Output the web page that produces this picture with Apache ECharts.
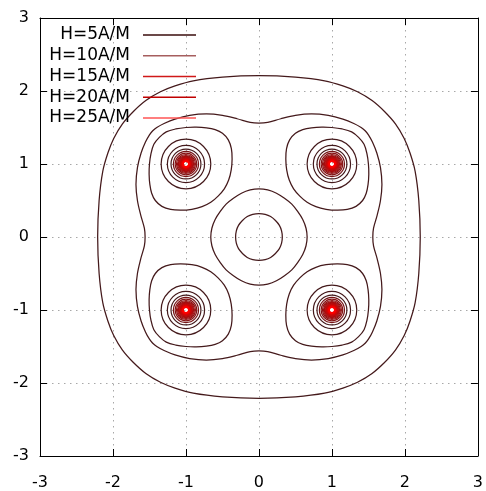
<!DOCTYPE html>
<html><head><meta charset="utf-8">
<script src="https://cdn.jsdelivr.net/npm/echarts@6/dist/echarts.min.js"></script>
<style>html,body{margin:0;padding:0;background:#fff}#c{width:486px;height:491px}</style>
</head><body><div id="c"></div>
<script>
// ---- data ----
const xTicks = [-3, -2, -1, 0, 1, 2, 3];
const yTicks = [-3, -2, -1, 0, 1, 2, 3];
const legendNames = ['H=5A/M', 'H=10A/M', 'H=15A/M', 'H=20A/M', 'H=25A/M'];
const wires = [[-1, 1], [1, 1], [-1, -1], [1, -1]];
// first-quadrant arcs of the contours that go round the origin (from the y axis to the x axis)
const outerArc = [[0,2.21],[0.50,2.19],[0.90,2.14],[1.15,2.07],[1.35,1.99],[1.55,1.87],[1.72,1.72],[1.87,1.55],[1.99,1.35],[2.07,1.15],[2.14,0.90],[2.19,0.50],[2.21,0]];
const middleArc = [[0,1.56],[0.12,1.57],[0.30,1.62],[0.50,1.665],[0.72,1.685],[0.95,1.665],[1.15,1.615],[1.30,1.555],[1.40,1.50],[1.455,1.455],[1.50,1.40],[1.555,1.30],[1.615,1.15],[1.665,0.95],[1.685,0.72],[1.665,0.50],[1.62,0.30],[1.57,0.12],[1.56,0]];
const innerArc = [[0,0.66],[0.12,0.645],[0.24,0.60],[0.35,0.53],[0.45,0.45],[0.53,0.35],[0.60,0.24],[0.645,0.12],[0.66,0]];
const centerArc = [[0,0.32],[0.085,0.31],[0.16,0.28],[0.226,0.226],[0.28,0.16],[0.31,0.085],[0.32,0]];
// outer contour round the wire at (1,1): half from the corner facing the origin to the outer diagonal point
const teardropHalf = [[0.56,0.56],[0.66,0.475],[0.78,0.415],[0.92,0.38],[1.07,0.368],[1.21,0.378],[1.33,0.42],[1.42,0.50],[1.47,0.60],[1.495,0.72],[1.505,0.86],[1.50,1.00],[1.48,1.14],[1.44,1.27],[1.365,1.365]];
// radii of the rings round each wire (outer to inner)
const ringRadii = [0.34, 0.255, 0.205, 0.172, 0.148, 0.13, 0.116, 0.104, 0.094, 0.086, 0.079, 0.073, 0.068, 0.064, 0.060, 0.056, 0.053, 0.050, 0.047, 0.045, 0.043, 0.041, 0.039, 0.037];

// ---- build closed loops using the plot's symmetry ----
function fullLoop(arc) {
  const rev = arc.slice().reverse();
  const q1 = arc.map(p => [p[0], p[1]]);
  const q4 = rev.slice(1).map(p => [p[0], -p[1]]);
  const q3 = arc.slice(1).map(p => [-p[0], -p[1]]);
  const q2 = rev.slice(1, -1).map(p => [-p[0], p[1]]);
  return q1.concat(q4, q3, q2);
}
function teardrop(sx, sy) {
  const mirror = teardropHalf.slice(1, -1).reverse().map(p => [p[1], p[0]]);
  return teardropHalf.concat(mirror).map(p => [p[0] * sx, p[1] * sy]);
}
const loops = [fullLoop(outerArc), fullLoop(middleArc), fullLoop(innerArc), fullLoop(centerArc)];
wires.forEach(w => loops.push(teardrop(w[0], w[1])));

const ringData = [];
wires.forEach(w => ringRadii.forEach((r, i) => ringData.push([w[0], w[1], r, i])));

const contourColor = '#44191b';
function ringColor(i) {
  const n = ringRadii.length;
  if (i < 3) return contourColor;
  const t = Math.pow((i - 2) / (n - 3), 0.55);
  const r = Math.round(0x55 + t * (255 - 0x55));
  const g = Math.round(0x1a * (1 - t));
  const b = Math.round(0x1c * (1 - t));
  return 'rgb(' + r + ',' + g + ',' + b + ')';
}
const legendColors = ['#3a0c0c', '#a65e5e', '#d01818', '#c00000', '#ff5555'];

const FONT = 'DejaVu Sans';
function xAxisDef(pos, labels) {
  return {
    type: 'value', min: -3, max: 3, interval: 1, position: pos,
    axisLine: { show: true, onZero: false, lineStyle: { color: '#000', width: 1 } },
    axisTick: { show: true, inside: true, length: 7, lineStyle: { color: '#000' } },
    axisLabel: { show: labels, fontSize: 16, fontFamily: FONT, color: '#000', margin: 19,
      formatter: v => xTicks.indexOf(v) >= 0 ? String(v) : '' },
    splitLine: { show: labels, lineStyle: { color: '#a8a8a8', width: 1, type: [1.5, 4.5] } }
  };
}
function yAxisDef(pos, labels) {
  return {
    type: 'value', min: -3, max: 3, interval: 1, position: pos,
    axisLine: { show: true, onZero: false, lineStyle: { color: '#000', width: 1 } },
    axisTick: { show: true, inside: true, length: 7, lineStyle: { color: '#000' } },
    axisLabel: { show: labels, fontSize: 16, fontFamily: FONT, color: '#000', margin: 11,
      formatter: v => yTicks.indexOf(v) >= 0 ? String(v) : '' },
    splitLine: { show: labels, lineStyle: { color: '#a8a8a8', width: 1, type: [1.5, 4.5] } }
  };
}

const graphics = [];
legendNames.forEach((n, i) => {
  const y = 35 + i * 20.75;
  graphics.push({ type: 'text', x: 130, y: y, z: 100,
    style: { text: n, font: '17px "DejaVu Sans"', fill: '#000', align: 'right', verticalAlign: 'middle' } });
  graphics.push({ type: 'line', z: 100, shape: { x1: 143, y1: y, x2: 196, y2: y },
    style: { stroke: legendColors[i], lineWidth: 1.3 } });
});

const chart = echarts.init(document.getElementById('c'), null, { renderer: 'canvas' });
chart.setOption({
  animation: false,
  backgroundColor: '#fff',
  grid: { left: 40, top: 18, width: 440, height: 438, containLabel: false },
  xAxis: [xAxisDef('bottom', true), xAxisDef('top', false)],
  yAxis: [yAxisDef('left', true), yAxisDef('right', false)],
  graphic: graphics,
  series: [
    {
      type: 'custom', coordinateSystem: 'cartesian2d', clip: true, silent: true, z: 3,
      encode: { x: 0, y: 1 },
      data: loops.map((l, i) => [0, 0, i]),
      renderItem: function (params, api) {
        const pts = loops[api.value(2)].map(p => api.coord(p));
        return { type: 'polygon', shape: { points: pts, smooth: 0.33, smoothConstraint: false },
          style: { fill: 'none', stroke: contourColor, lineWidth: 1.25 } };
      }
    },
    {
      type: 'custom', coordinateSystem: 'cartesian2d', clip: true, silent: true, z: 4,
      encode: { x: 0, y: 1 },
      data: ringData,
      renderItem: function (params, api) {
        const c = api.coord([api.value(0), api.value(1)]);
        const s = api.size([api.value(2), api.value(2)]);
        const r = (s[0] + s[1]) / 2;
        return { type: 'circle', shape: { cx: c[0], cy: c[1], r: r },
          style: { fill: 'none', stroke: ringColor(api.value(3)), lineWidth: 1.2 } };
      }
    }
  ]
});
</script></body></html>
